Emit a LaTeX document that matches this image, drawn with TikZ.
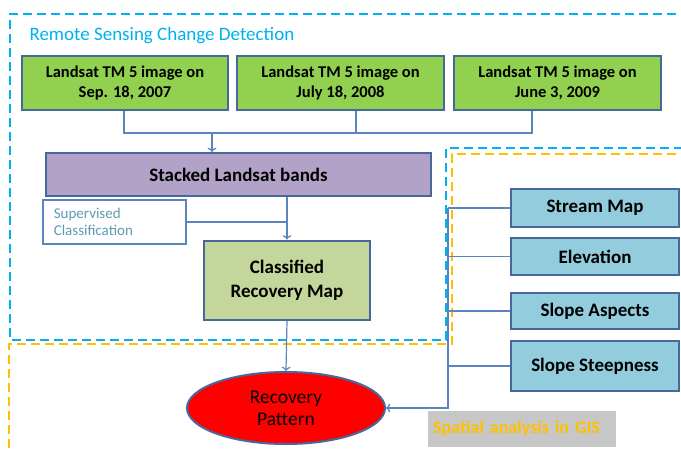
\documentclass[tikz,border=0pt]{standalone}
\usepackage{fontspec}
\setmainfont{Carlito}
\usepackage{tikz}
\usetikzlibrary{arrows.meta, calc, shapes.geometric}
\definecolor{imggreen}{HTML}{92D050}
\definecolor{bandpurple}{HTML}{B3A2C7}
\definecolor{mapgreen}{HTML}{C3D69B}
\definecolor{gisblue}{HTML}{93CDDD}
\definecolor{edgeblue}{HTML}{46689A}
\definecolor{linkblue}{HTML}{5B85C0}
\definecolor{rsblue}{HTML}{00B0F0}
\definecolor{gisyellow}{HTML}{FFC000}
\definecolor{supertext}{HTML}{5F9BB5}
\begin{document}
\begin{tikzpicture}[x=1pt, y=-1pt,
  box/.style={draw=edgeblue, line width=2pt, inner sep=0pt, align=center, font=\bfseries},
  link/.style={draw=linkblue, line width=1.2pt},
  region/.style={line width=2.4pt, dash pattern=on 9pt off 5pt}]
\useasboundingbox (0,0) rectangle (681,451);
\clip (0,0) rectangle (681,451);
% dashed regions
\draw[region, rsblue] (690,14) -- (10,14) -- (10,340) -- (446,340) -- (446,148) -- (690,148);
\draw[region, gisyellow] (690,154) -- (452,154) -- (452,344) -- (9,344) -- (9,460);
\path
(26,36) node[anchor=west, text=rsblue, font=\fontsize{19}{21}\selectfont] (rstitle) {Remote Sensing Change Detection};
% input images
\path
(125,83) node[box, fill=imggreen, minimum width=206pt, minimum height=54pt, font=\bfseries\fontsize{16.5}{20}\selectfont] (img07) {Landsat TM 5 image on\\Sep. 18, 2007};
\path
(340.5,83) node[box, fill=imggreen, minimum width=207pt, minimum height=54pt, font=\bfseries\fontsize{16.5}{20}\selectfont] (img08) {Landsat TM 5 image on\\July 18, 2008};
\path
(557.5,83) node[box, fill=imggreen, minimum width=207pt, minimum height=54pt, font=\bfseries\fontsize{16.5}{20}\selectfont] (img09) {Landsat TM 5 image on\\June 3, 2009};
\path
(238.5,174.5) node[box, fill=bandpurple, minimum width=385pt, minimum height=43pt, font=\bfseries\fontsize{19}{22}\selectfont] (stacked) {Stacked Landsat bands};
\path
(114.5,222) node[draw=linkblue, line width=1.5pt, fill=white, minimum width=143pt, minimum height=44pt, inner sep=0pt] (superv) {};
\path
(superv.west) node[anchor=west, xshift=8pt, align=left, text=supertext, font=\fontsize{15}{17}\selectfont] (supervtext) {Supervised\\Classification};
\path
(287,280) node[box, fill=mapgreen, minimum width=166pt, minimum height=79pt, font=\bfseries\fontsize{19}{24}\selectfont] (classified) {Classified\\Recovery Map};
\path
(286,408) node[ellipse, draw=edgeblue, line width=2pt, fill=red, minimum width=198pt, minimum height=72pt, inner sep=0pt, align=center, font=\fontsize{19.5}{22}\selectfont] (pattern) {Recovery\\Pattern};
% GIS layers
\path
(595,208) node[box, fill=gisblue, minimum width=168pt, minimum height=38pt, font=\bfseries\fontsize{19}{22}\selectfont] (stream) {Stream Map};
\path
(595,256.5) node[box, fill=gisblue, minimum width=168pt, minimum height=37pt, font=\bfseries\fontsize{19}{22}\selectfont] (elev) {Elevation};
\path
(595,311) node[box, fill=gisblue, minimum width=168pt, minimum height=36pt, font=\bfseries\fontsize{19}{22}\selectfont] (aspect) {Slope Aspects};
\path
(595,366) node[box, fill=gisblue, minimum width=168pt, minimum height=50pt, font=\bfseries\fontsize{19}{22}\selectfont] (steep) {Slope Steepness};
\path
(428,429) node[anchor=west, fill=black!22, minimum width=188pt, minimum height=36pt, inner sep=5pt, text=gisyellow, font=\bfseries\fontsize{18}{21}\selectfont, align=left, text width=178pt] (gislabel) {Spatial analysis in GIS};
% connectors
\coordinate (join) at (212,133);
\coordinate (bus) at (448,208);
\draw[link] ([xshift=-1pt]img07.south) |- (join) -| ([xshift=-25.5pt]img09.south);
\draw[link] ([xshift=15.5pt]img08.south) -- ([xshift=15.5pt]img08.south |- join);
\draw[link, ->] (join) -- (join |- stacked.north);
\draw[link, ->] (classified.north |- stacked.south) -- (classified.north);
\draw[link] (superv.east) -- (superv.east -| classified.north);
\draw[link, ->] (classified.south) -- (pattern.north);
\draw[link] (stream.west) -- (stream.west -| bus);
\draw[link] (elev.west) -- (elev.west -| bus);
\draw[link] (aspect.west) -- (aspect.west -| bus);
\draw[link] (steep.west) -- (steep.west -| bus);
\draw[link, ->] (bus) -- (bus |- pattern.east) -- (pattern.east);
\end{tikzpicture}
\end{document}
